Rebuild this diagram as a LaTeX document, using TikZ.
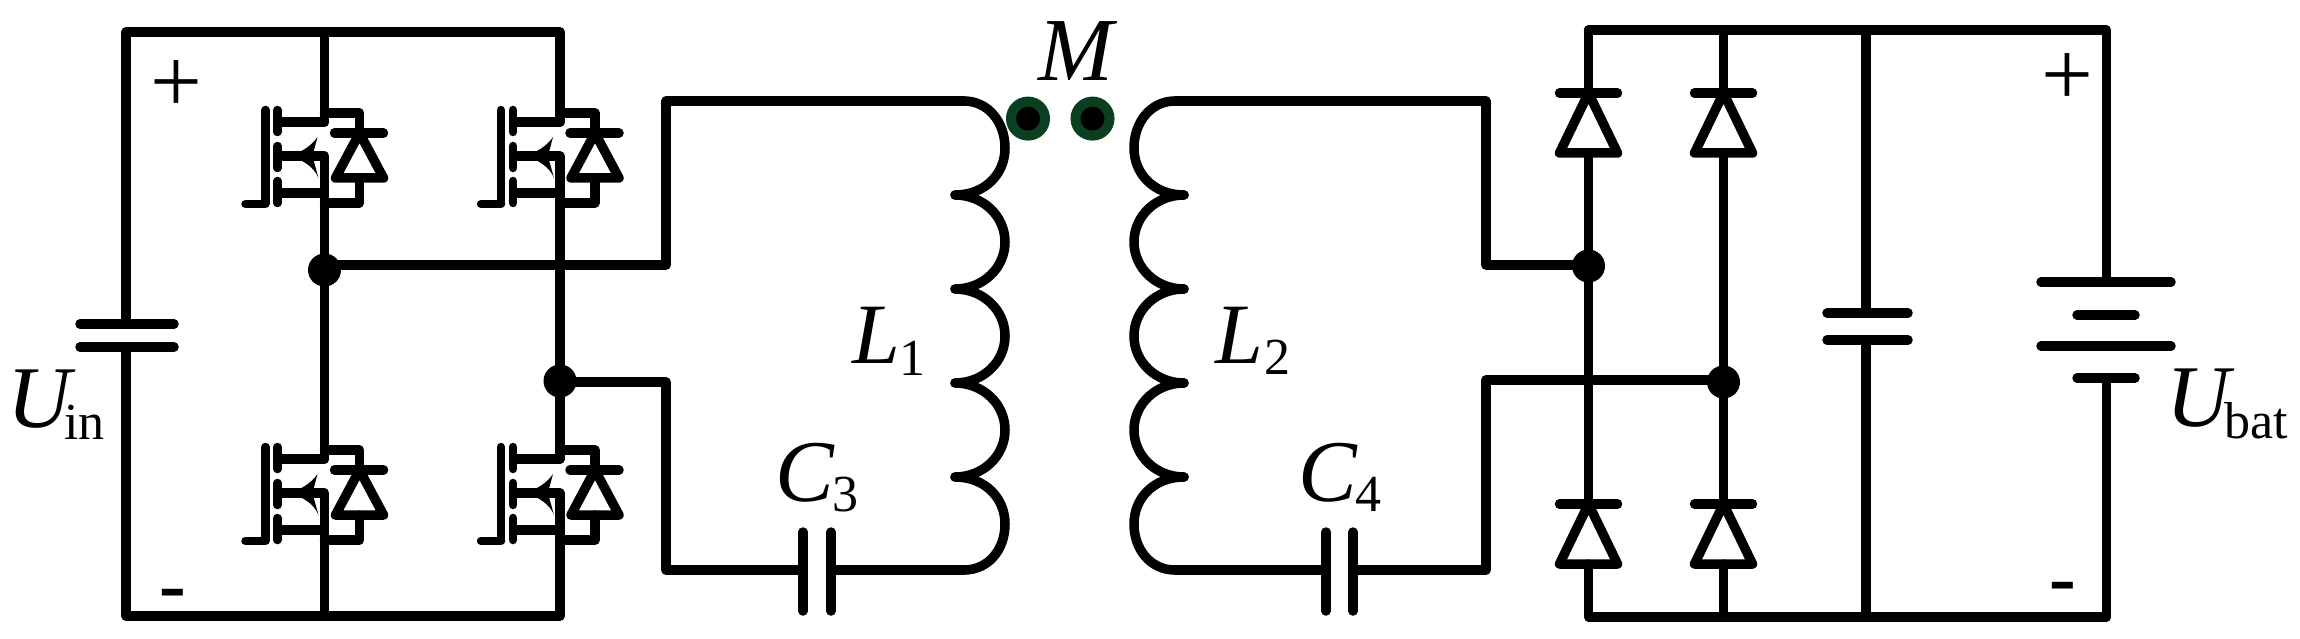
\documentclass[tikz,border=0pt]{standalone}
\usepackage{fontspec}
\setmainfont{Liberation Serif}
\newfontfamily\hyfont{Liberation Sans}
\newcommand{\lab}[1]{\fontsize{#1}{#1}\selectfont}
\definecolor{ringgreen}{HTML}{0B3F22}
\tikzset{
  wire/.style={line width=9.5pt,line cap=round,line join=round},
  thin bar/.style={line width=8.5pt,line cap=round},
  dotj/.style={circle,fill=black,inner sep=0pt,minimum size=33pt},
  ring/.style={circle,fill=black,draw=ringgreen,line width=10pt,inner sep=0pt,minimum size=34pt},
  txt/.style={anchor=base west,inner sep=0pt,outer sep=0pt},
  mos/.pic={
    \draw[thin bar] (-59,-12) -- (-59,81);
    \draw[thin bar] (-79,82) -- (-59,82);
    \draw[thin bar] (-47,-12) -- (-47,10);
    \draw[thin bar] (-47,24) -- (-47,46);
    \draw[thin bar] (-47,59) -- (-47,81);
    \draw[wire,line cap=butt] (-47,0) -- (0,0) -- (0,-4);
    \draw[wire,line cap=butt] (-47,71) -- (0,71);
    \draw[wire,line cap=butt] (-47,34) -- (0,34) -- (0,71);
    \fill (-36,34) .. controls (-24,31) and (-13,24) .. (-7,15) -- (-11,30) -- (-11,38) -- (-6,56) .. controls (-10,46) and (-20,38) .. (-36,34) -- cycle;
    \draw[wire] (0,-9) -- (35,-9) -- (35,11);
    \draw[wire] (10,11) -- (59,11);
    \draw[wire] (35,11) -- (11,56) -- (59,56) -- cycle;
    \draw[wire] (35,56) -- (35,81) -- (0,81);
  },
  pinv/.pic={
    \draw[wire] (-29,0) -- (29,0);
    \draw[wire] (0,0) -- (-29,60) -- (29,60) -- cycle;
  }
}
\begin{document}
\begin{tikzpicture}[x=1pt,y=-1pt]
\useasboundingbox (0,0) rectangle (2300,639);
% ---- named points
\coordinate (tl) at (126,32);
\coordinate (tm) at (324.5,32);
\coordinate (tr) at (560,32);
\coordinate (bl) at (126,616);
\coordinate (bm) at (324.5,616);
\coordinate (br) at (560,616);
\node[dotj] (j1) at (324.5,270) {};
\node[dotj] (j2) at (560,381) {};
\coordinate (cinT) at (126,324);
\coordinate (cinB) at (126,347);
% MOSFETs
\pic (s1) at (324.5,122) {mos};
\pic (s2) at (560,122) {mos};
\pic (s3) at (324.5,459) {mos};
\pic (s4) at (560,459) {mos};
% frame
\draw[wire] (cinT) -- (tl) -- (tr) -- (560,122);
\draw[wire] (560,193) -- (560,459);
\draw[wire] (560,530) -- (br) -- (bl) -- (cinB);
\draw[wire] (tm) -- (324.5,122);
\draw[wire] (324.5,193) -- (j1);
\draw[wire] (j1) -- (324.5,459);
\draw[wire] (324.5,530) -- (bm);
\draw[wire] (80,324) -- (174,324);
\draw[wire] (80,347) -- (174,347);
% AC wires, primary
\coordinate (p0) at (324.5,265);
\coordinate (p1) at (666,265);
\coordinate (p2) at (666,101);
\coordinate (p3) at (964,101);
\coordinate (p3b) at (560,382);
\coordinate (p4) at (666,382);
\coordinate (p5) at (666,570);
\coordinate (p6) at (964,570);
\coordinate (c3a) at (803,570);
\coordinate (c3b) at (831,570);
\draw[wire] (p0) -- (p1) -- (p2) -- (p3);
\draw[wire] (p3b) -- (p4) -- (p5) -- (c3a);
\draw[wire] (c3b) -- (p6);
\draw[wire] (803,532) -- (803,611);
\draw[wire] (831,532) -- (831,611);
% L1
\draw[wire] (p3) .. controls (988,101) and (1005,122) .. (1005,148) .. controls (1005,174) and (985,195) .. (955,195);
\foreach \y in {195,289,383}
  \draw[wire,shift={(955,\y)}] (0,0) .. controls (28,0) and (50,21) .. (50,47) .. controls (50,73) and (28,94) .. (0,94);
\draw[wire] (955,477) .. controls (985,477) and (1005,498) .. (1005,524) .. controls (1005,550) and (988,570) .. (p6);
% L2
\coordinate (q3) at (1175,101);
\coordinate (q6) at (1175,570);
\draw[wire] (q3) .. controls (1151,101) and (1134,122) .. (1134,148) .. controls (1134,174) and (1154,195) .. (1184,195);
\foreach \y in {195,289,383}
  \draw[wire,shift={(1184,\y)}] (0,0) .. controls (-28,0) and (-50,21) .. (-50,47) .. controls (-50,73) and (-28,94) .. (0,94);
\draw[wire] (1184,477) .. controls (1154,477) and (1134,498) .. (1134,524) .. controls (1134,550) and (1151,570) .. (q6);
% dots of M
\node[ring] (m1) at (1028,118.6) {};
\node[ring] (m2) at (1092.5,118.6) {};
% secondary
\node[dotj] (j3) at (1588.5,266) {};
\node[dotj] (j4) at (1723.5,382) {};
\coordinate (q1) at (1486,101);
\coordinate (q2) at (1486,265);
\coordinate (q2b) at (1588.5,265);
\coordinate (q4) at (1486,380);
\coordinate (q4b) at (1723.5,380);
\coordinate (q5) at (1486,570);
\coordinate (c4a) at (1326,570);
\coordinate (c4b) at (1353,570);
\draw[wire] (q3) -- (q1) -- (q2) -- (q2b);
\draw[wire] (q6) -- (c4a);
\draw[wire] (c4b) -- (q5) -- (q4) -- (q4b);
\draw[wire] (1326,532) -- (1326,611);
\draw[wire] (1353,532) -- (1353,611);
% right frame
\coordinate (r1) at (1588.5,30);
\coordinate (r2) at (1723.5,30);
\coordinate (r3) at (1866,30);
\coordinate (r4) at (2106.5,30);
\coordinate (s1b) at (1588.5,617);
\coordinate (s2b) at (1723.5,617);
\coordinate (s3b) at (1866,617);
\coordinate (s4b) at (2106.5,617);
\draw[wire] (r1) -- (r4) -- (2106.5,282);
\draw[wire] (2106.5,378) -- (s4b) -- (s1b) -- (1588.5,564);
\draw[wire] (1588.5,504) -- (1588.5,153);
\draw[wire] (1588.5,93) -- (r1);
\draw[wire] (r2) -- (1723.5,93);
\draw[wire] (1723.5,153) -- (1723.5,504);
\draw[wire] (1723.5,564) -- (s2b);
\draw[wire] (r3) -- (1866,313);
\draw[wire] (1866,340) -- (s3b);
\draw[wire] (1827,313) -- (1908,313);
\draw[wire] (1827,340) -- (1908,340);
\draw[wire] (2041,282) -- (2171,282);
\draw[wire] (2077,315) -- (2135,315);
\draw[wire] (2041,346) -- (2171,346);
\draw[wire] (2077,378) -- (2135,378);
% bridge diodes
\pic at (1588.5,93) {pinv};
\pic at (1723.5,93) {pinv};
\pic at (1588.5,504) {pinv};
\pic at (1723.5,504) {pinv};
% labels
\node[txt] (plusL) at (150,113) {\lab{92}+};
\node[txt] (minusL) at (158,615) {\lab{86}\hyfont -};
\node[txt] (plusR) at (2041,106) {\lab{92}+};
\node[txt] (minusR) at (2048,608) {\lab{86}\hyfont -};
\node[txt] (uin) at (8,427) {\lab{88}\itshape U};
\node[txt] (uinsub) at (64,439) {\lab{52}in};
\node[txt] (mm) at (1038,81) {\lab{90}\itshape M};
\node[txt] (l1) at (852,363) {\lab{86}\itshape L};
\node[txt] (l1s) at (899,375) {\lab{52}1};
\node[txt] (l2) at (1215,363) {\lab{86}\itshape L};
\node[txt] (l2s) at (1264,374) {\lab{52}2};
\node[txt] (c3) at (775,501) {\lab{88}\itshape C};
\node[txt] (c3s) at (832,511) {\lab{52}3};
\node[txt] (c4) at (1298,501) {\lab{88}\itshape C};
\node[txt] (c4s) at (1355,511) {\lab{52}4};
\node[txt] (ub) at (2166,426) {\lab{88}\itshape U};
\node[txt] (ubs) at (2224,438) {\lab{52}bat};
\end{tikzpicture}
\end{document}
